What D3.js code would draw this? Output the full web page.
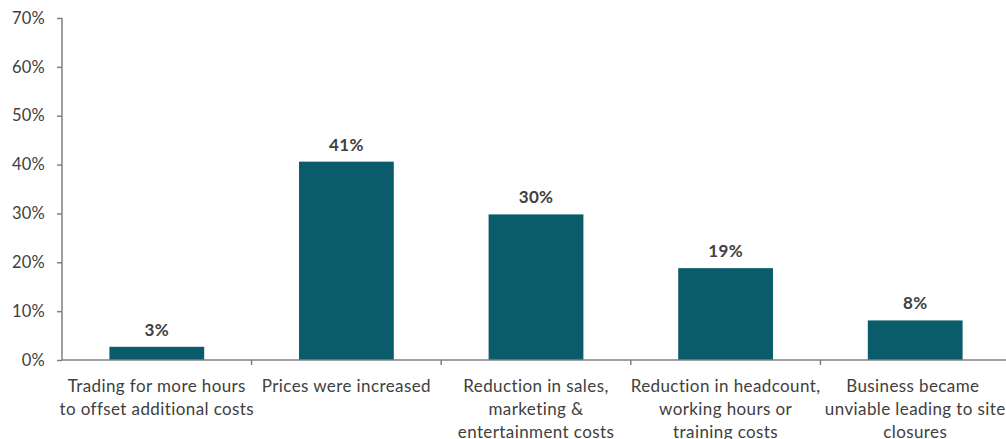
<!DOCTYPE html>
<html>
<head>
<meta charset="utf-8">
<script src="https://cdn.jsdelivr.net/npm/d3@7"></script>
<style>
  html, body { margin: 0; padding: 0; background: #fff; }
  svg { display: block; font-family: Lato, "Open Sans", sans-serif; }
</style>
</head>
<body>
<svg id="chart" width="1006" height="439"></svg>
<script>
// Share of respondents by action taken
const categories = [
  ["Trading for more hours", "to offset additional costs"],
  ["Prices were increased"],
  ["Reduction in sales,", "marketing &", "entertainment costs"],
  ["Reduction in headcount,", "working hours or", "training costs"],
  ["Business became ", "unviable leading to site", "closures"]
];
const values = [0.027, 0.406, 0.298, 0.188, 0.081];
const yTicks = [0, 0.1, 0.2, 0.3, 0.4, 0.5, 0.6, 0.7];

const svg = d3.select("#chart");
const plotLeft = 62, plotRight = 1010, plotTop = 18, plotBottom = 360;

const keys = categories.map((c, i) => i);
const x = d3.scaleBand().domain(keys).range([plotLeft, plotRight]).paddingInner(0.5).paddingOuter(0.25);
const xBound = d3.scaleBand().domain(keys).range([plotLeft, plotRight]).padding(0);
const y = d3.scaleLinear().domain([0, 0.7]).range([plotBottom, plotTop]);

const axisColor = "#7f7f7f";
const textColor = "#404040";

// Bars
svg.append("g").selectAll("rect")
  .data(values)
  .join("rect")
  .attr("x", (d, i) => x(i))
  .attr("width", x.bandwidth())
  .attr("y", d => y(d))
  .attr("height", d => y(0) - y(d))
  .attr("fill", "#0a5c6b");

// Value labels
const fmt = d3.format(".0%");
svg.append("g").selectAll("text")
  .data(values)
  .join("text")
  .attr("x", (d, i) => x(i) + x.bandwidth() / 2)
  .attr("y", d => y(d) - 11)
  .attr("text-anchor", "middle")
  .attr("font-size", 17)
  .attr("font-weight", "bold")
  .attr("letter-spacing", 0.3)
  .attr("fill", textColor)
  .text(d => fmt(d));

// Y axis
const yAxis = d3.axisLeft(y).tickValues(yTicks).tickFormat(d3.format(".0%")).tickSize(5).tickPadding(12);
const gy = svg.append("g").attr("transform", `translate(${plotLeft},0)`).call(yAxis);
gy.select(".domain").attr("stroke", axisColor).attr("stroke-width", 1.5).attr("d", `M0,${plotTop}V${plotBottom}`);
gy.selectAll(".tick line").attr("stroke", axisColor).attr("stroke-width", 1.5);
gy.selectAll(".tick text").attr("font-size", 16.5).attr("letter-spacing", 0.2)
  .attr("fill", textColor).attr("font-family", "Lato, sans-serif");

// X axis baseline with tick marks at category boundaries
const gx = svg.append("g");
gx.append("line")
  .attr("x1", plotLeft).attr("x2", plotRight)
  .attr("y1", y(0)).attr("y2", y(0))
  .attr("stroke", axisColor).attr("stroke-width", 1.5);
gx.selectAll("line.tk")
  .data(keys.slice(1))
  .join("line")
  .attr("class", "tk")
  .attr("x1", d => xBound(d)).attr("x2", d => xBound(d))
  .attr("y1", y(0)).attr("y2", y(0) + 5)
  .attr("stroke", axisColor).attr("stroke-width", 1.5);

// Category labels
const lab = gx.selectAll("text.cat")
  .data(categories)
  .join("text")
  .attr("class", "cat")
  .attr("text-anchor", "middle")
  .attr("font-size", 17)
  .attr("letter-spacing", 0.4)
  .attr("fill", textColor)
  .style("white-space", "pre");
lab.selectAll("tspan")
  .data((d, i) => d.map(line => ({ line, i })))
  .join("tspan")
  .attr("x", d => xBound(d.i) + xBound.bandwidth() / 2)
  .attr("y", (d, j) => 392 + j * 23)
  .text(d => d.line);
</script>
</body>
</html>
